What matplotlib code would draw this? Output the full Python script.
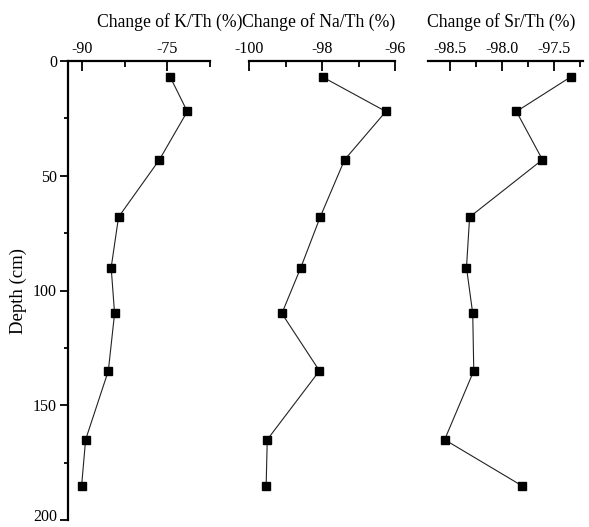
import matplotlib
matplotlib.use("Agg")
import matplotlib.pyplot as plt
from matplotlib.ticker import MultipleLocator, FormatStrFormatter
from matplotlib.transforms import ScaledTranslation

plt.rcParams['font.family'] = ['Liberation Serif', 'DejaVu Serif']
plt.rcParams['axes.unicode_minus'] = False

depth = [7, 22, 43, 68, 90, 110, 135, 165, 185]
k_th = [-74.5, -71.5, -76.4, -83.6, -84.9, -84.3, -85.4, -89.4, -90.1]
na_th = [-97.98, -96.25, -97.38, -98.05, -98.58, -99.1, -98.07, -99.5, -99.53]
sr_th = [-97.34, -97.86, -97.61, -98.31, -98.34, -98.28, -98.27, -98.55, -97.81]

titles = ["Change of K/Th (%)", "Change of Na/Th (%)", "Change of Sr/Th (%)"]
series = [k_th, na_th, sr_th]
xlims = [(-92.5, -67.5), (-100, -96), (-98.71, -97.22)]
majors = [15, 2, 0.5]
minors = [7.5, 1, 0.25]
fmts = ["%d", "%d", "%.1f"]
label_x = [0.72, 0.48, 0.47]

W, H = 589, 527
fig = plt.figure(figsize=(W / 100, H / 100), dpi=100)
boxes = [(68, 210), (249, 395), (428, 583)]
top, bottom = 61, 520

first_ax = None
for i, (x0, x1) in enumerate(boxes):
    ax = fig.add_axes([x0 / W, 1 - bottom / H, (x1 - x0) / W, (bottom - top) / H])
    ax.plot(series[i], depth, color='#222222', lw=0.8, marker='s',
            markersize=6.3, markerfacecolor='black', markeredgecolor='black')
    ax.set_ylim(200, 0)
    ax.set_xlim(*xlims[i])
    ax.xaxis.tick_top()
    ax.xaxis.set_label_position('top')
    ax.xaxis.set_major_locator(MultipleLocator(majors[i]))
    ax.xaxis.set_minor_locator(MultipleLocator(minors[i]))
    ax.xaxis.set_major_formatter(FormatStrFormatter(fmts[i]))
    ax.tick_params(axis='x', which='major', direction='in', length=7, width=1.3,
                   labelsize=11.5, pad=3)
    ax.tick_params(axis='x', which='minor', direction='in', length=4, width=1.3)
    ax.set_xlabel(titles[i], fontsize=12.7)
    ax.xaxis.set_label_coords(label_x[i], 1.075)
    for s in ['right', 'bottom']:
        ax.spines[s].set_visible(False)
    ax.spines['top'].set_linewidth(1.6)
    if i == 0:
        first_ax = ax
        ax.spines['left'].set_linewidth(1.6)
        ax.yaxis.set_major_locator(MultipleLocator(50))
        ax.yaxis.set_minor_locator(MultipleLocator(25))
        ax.tick_params(axis='y', which='major', direction='out', length=6,
                       width=1.3, labelsize=11.5, pad=2)
        ax.tick_params(axis='y', which='minor', direction='out', length=3, width=1.3)
        ax.set_ylabel("Depth (cm)", fontsize=13.5)
        ax.yaxis.set_label_coords(-0.29, 0.5)
    else:
        ax.spines['left'].set_visible(False)
        ax.set_yticks([])
    ax.patch.set_alpha(0)

fig.canvas.draw()
shift = ScaledTranslation(0, 3.5 / 72, fig.dpi_scale_trans)
for lab in first_ax.get_yticklabels():
    if lab.get_text() == "200":
        lab.set_transform(lab.get_transform() + shift)

fig.savefig("out.png", dpi=100)
